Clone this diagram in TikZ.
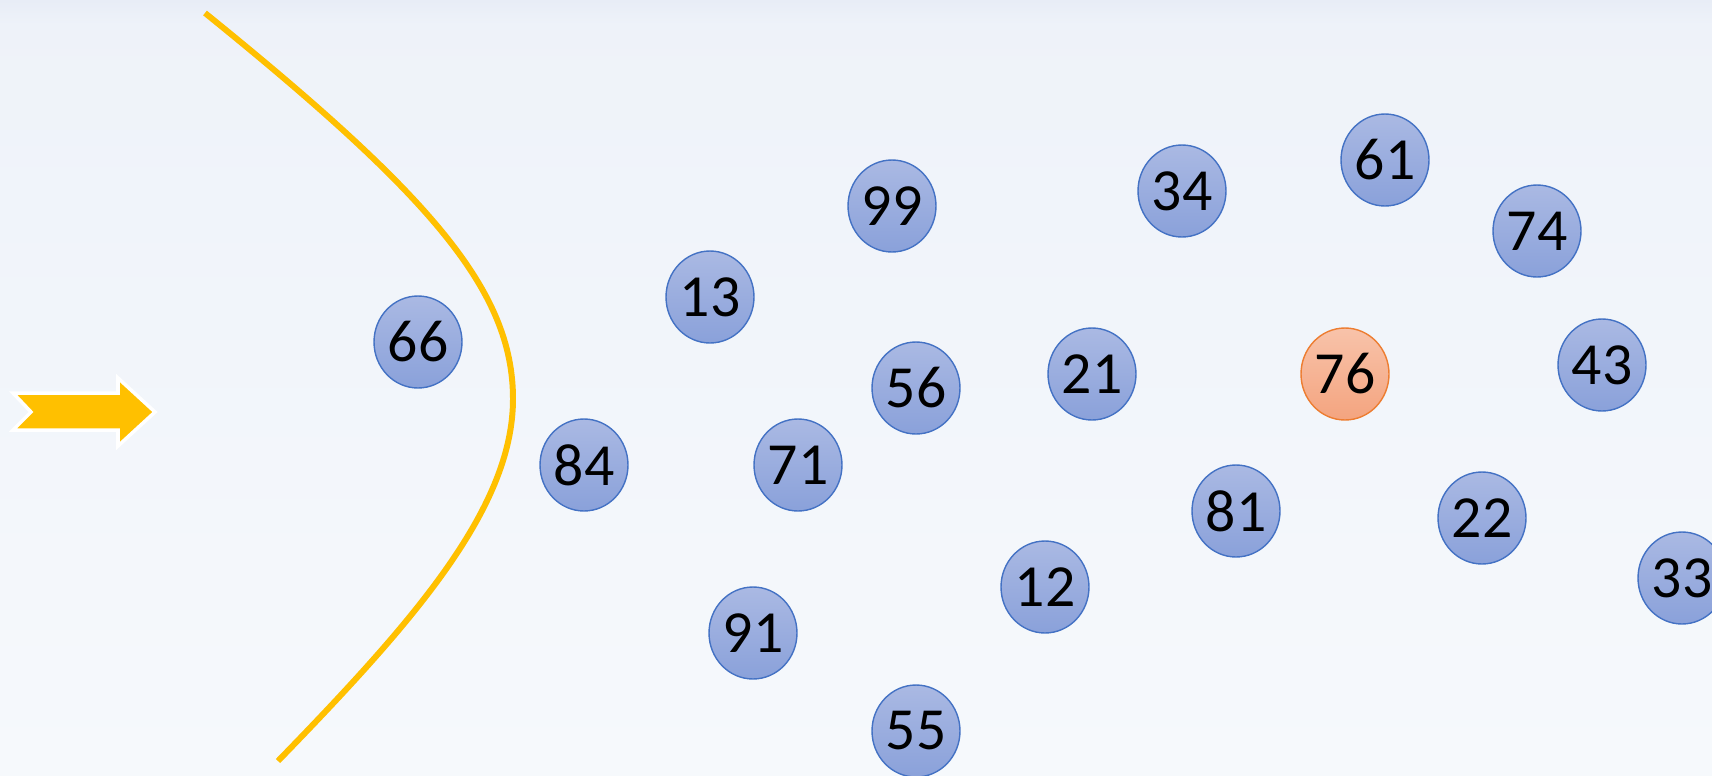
\documentclass[tikz,border=0pt]{standalone}
\usepackage{fontspec}
\setmainfont{Carlito}
\usetikzlibrary{shapes.geometric}
\definecolor{bgtop}{HTML}{EEF2F9}
\definecolor{bgbot}{HTML}{F6F9FC}
\definecolor{bgband}{HTML}{E8EDF6}
\definecolor{ballline}{HTML}{4472C4}
\definecolor{balltop}{HTML}{AAB9E3}
\definecolor{ballbot}{HTML}{8AA1DA}
\definecolor{hotline}{HTML}{ED7D31}
\definecolor{hottop}{HTML}{F8C3AA}
\definecolor{hotbot}{HTML}{F4A47F}
\definecolor{gold}{HTML}{FFC000}
\tikzset{
  ball/.style={ellipse, draw=ballline, line width=0.8pt, top color=balltop, bottom color=ballbot,
    minimum width=1.76cm, minimum height=1.84cm, inner sep=0pt,
    font=\fontsize{34}{36}\selectfont},
  hotball/.style={ball, draw=hotline, top color=hottop, bottom color=hotbot}
}
\begin{document}
\begin{tikzpicture}[x=0.02cm, y=-0.02cm]
    % Background
    \shade[top color=bgtop, bottom color=bgbot] (0,0) rectangle (1712,775);
    \shade[top color=bgband, bottom color=bgtop] (0,0) rectangle (1712,25);
    \useasboundingbox (0,0) rectangle (1712,775);

    % Pointer arrow
    \filldraw[draw=white, fill=gold, line width=2pt]
      (13,393) -- (118,393) -- (118,378) -- (155,412) -- (118,446) -- (118,430)
      -- (13,430) -- (31,412) -- cycle;

    % Boundary curve
    \draw[gold, line width=3.4pt] (205,13) .. controls (430,195) and (513,290) .. (513,399)
      .. controls (513,510) and (410,625) .. (278,761);

    % Points
    \node[ball] (n66) at (418,342) {66};
    \node[ball] (n84) at (584,465) {84};
    \node[ball] (n13) at (710,297) {13};
    \node[ball] (n99) at (892,206) {99};
    \node[ball] (n56) at (916,388) {56};
    \node[ball] (n71) at (798,465) {71};
    \node[ball] (n91) at (753,633) {91};
    \node[ball] (n55) at (916,731) {55};
    \node[ball] (n21) at (1092,374) {21};
    \node[ball] (n34) at (1182,191) {34};
    \node[ball] (n12) at (1045,587) {12};
    \node[ball] (n81) at (1236,511) {81};
    \node[ball] (n61) at (1385,160) {61};
    \node[hotball] (n76) at (1345,374) {76};
    \node[ball] (n74) at (1537,231) {74};
    \node[ball] (n43) at (1602,365) {43};
    \node[ball] (n22) at (1482,518) {22};
    \node[ball] (n33) at (1682,578) {33};
\end{tikzpicture}
\end{document}
